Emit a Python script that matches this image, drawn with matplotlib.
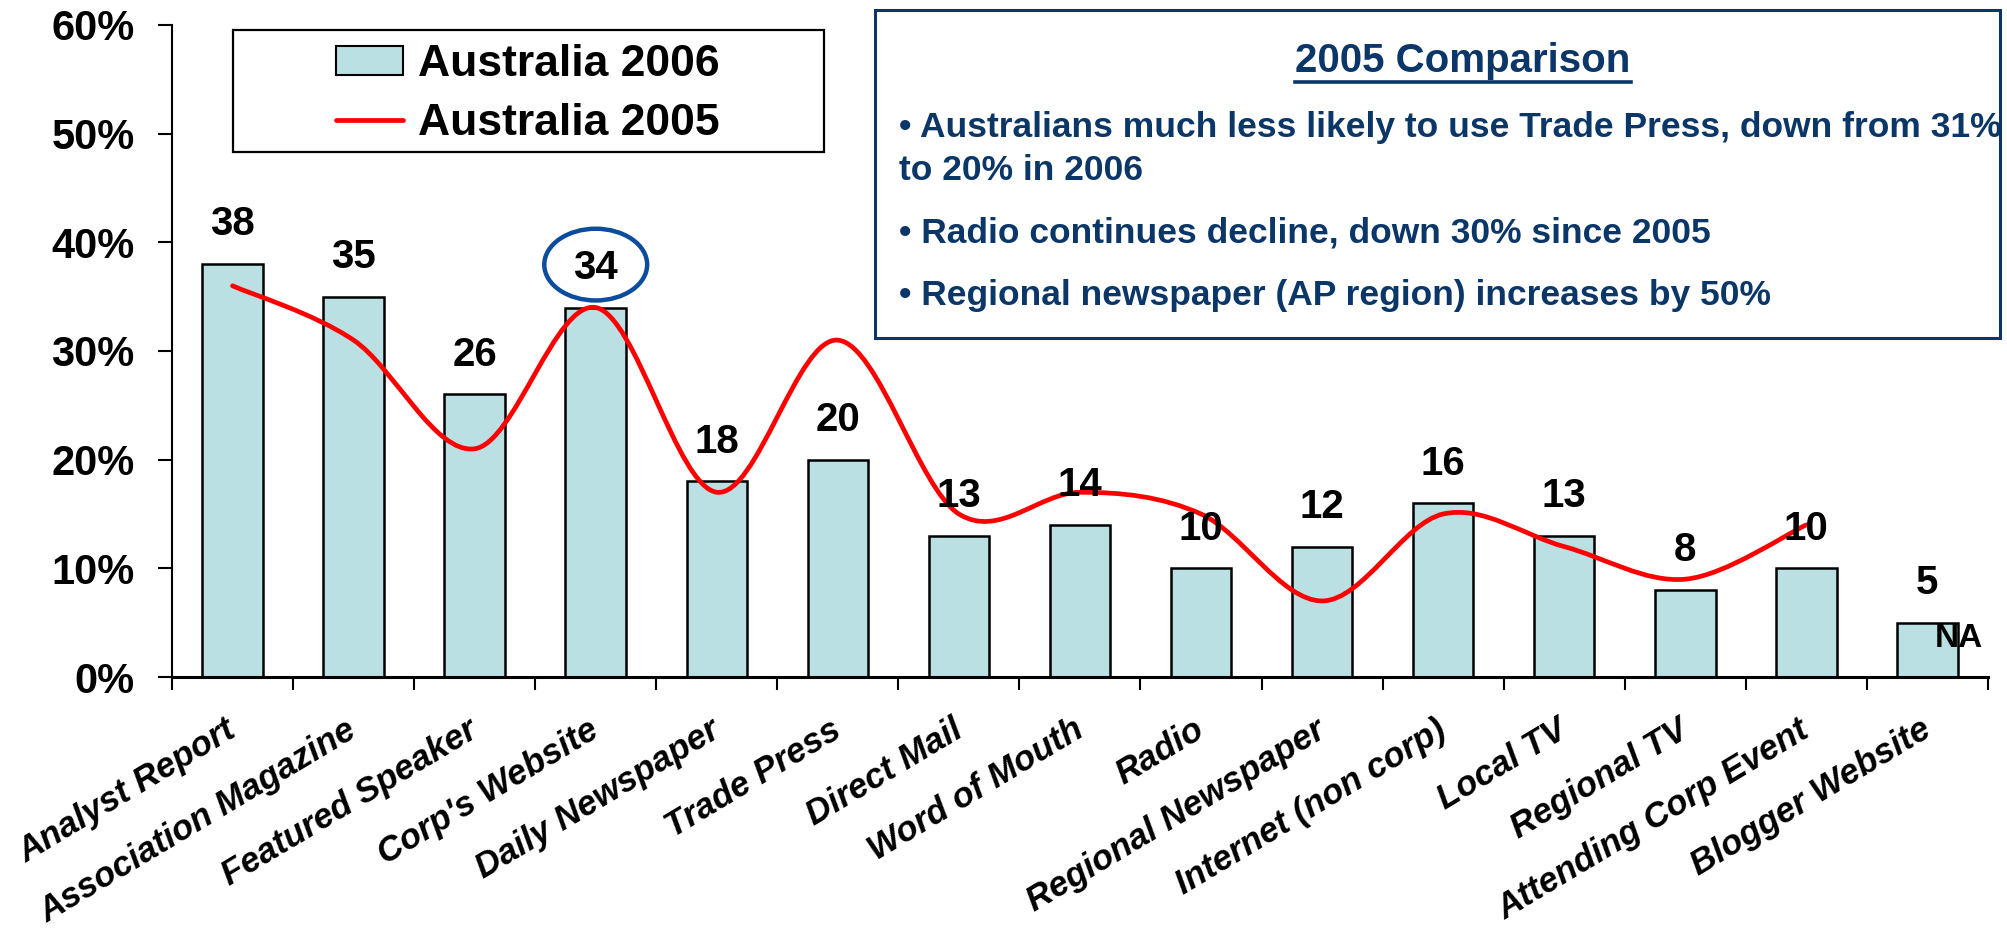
import numpy as np
import matplotlib.pyplot as plt
from matplotlib.path import Path
from matplotlib.patches import PathPatch, Rectangle, Ellipse
from matplotlib.lines import Line2D
from matplotlib.transforms import ScaledTranslation

plt.rcParams['font.family'] = ['Liberation Sans', 'DejaVu Sans']
plt.rcParams['font.weight'] = 'bold'

# --- data ---
categories = ['Analyst Report', 'Association Magazine', 'Featured Speaker', "Corp's Website",
              'Daily Newspaper', 'Trade Press', 'Direct Mail', 'Word of Mouth', 'Radio',
              'Regional Newspaper', 'Internet (non corp)', 'Local TV', 'Regional TV',
              'Attending Corp Event', 'Blogger Website']
aus_2006 = [38, 35, 26, 34, 18, 20, 13, 14, 10, 12, 16, 13, 8, 10, 5]
aus_2005 = [36, 31, 21, 34, 17, 31, 15, 17, 15, 7, 15, 12, 9, 14, None]
y_ticks = [0, 10, 20, 30, 40, 50, 60]
box_title = '2005 Comparison'
box_notes = ['\u2022 Australians much less likely to use Trade Press, down from 31%\nto 20% in 2006',
             '\u2022 Radio continues decline, down 30% since 2005',
             '\u2022 Regional newspaper (AP region) increases by 50%']
highlight = "Corp's Website"
na_category = 'Blogger Website'

BAR_COLOR = '#BAE0E3'
LINE_COLOR = '#FF0000'
NAVY = '#0B3668'
CIRCLE_BLUE = '#0B4C9E'


def smooth_path(xs, ys):
    # excel style smoothed line -> cubic bezier segments through the points
    pts = np.column_stack([xs, ys]).astype(float)
    n = len(pts)
    verts = [pts[0]]
    codes = [Path.MOVETO]
    for i in range(n - 1):
        p0 = pts[max(i - 1, 0)]
        p1 = pts[i]
        p2 = pts[i + 1]
        p3 = pts[min(i + 2, n - 1)]
        verts += [p1 + (p2 - p0) / 6, p2 - (p3 - p1) / 6, p2]
        codes += [Path.CURVE4] * 3
    return Path(verts, codes)


fig = plt.figure(figsize=(20.07, 9.32), dpi=100)
ax = fig.add_axes([0.0857, 0.2736, 0.9048, 0.6996])

x = np.arange(len(categories))
ax.bar(x, aus_2006, width=0.5, color=BAR_COLOR, edgecolor='black', linewidth=1.8, zorder=2)

# 2005 line (smoothed)
idx = [i for i, v in enumerate(aus_2005) if v is not None]
vals = [aus_2005[i] for i in idx]
ax.add_patch(PathPatch(smooth_path(idx, vals), facecolor='none', edgecolor=LINE_COLOR,
                       linewidth=3.4, capstyle='round', zorder=3))

# value labels
for i, v in enumerate(aus_2006):
    ax.annotate(str(v), xy=(i, v), xytext=(0, 28.5), textcoords='offset points',
                ha='center', va='center', fontsize=29, fontweight='bold', zorder=4)

hi = categories.index(highlight)
ax.add_patch(Ellipse((hi, aus_2006[hi] + 3.95), 0.85, 6.6, facecolor='none',
                     edgecolor=CIRCLE_BLUE, linewidth=3.2, zorder=5))

na = categories.index(na_category)
ax.text(na + 0.26, 3.5, 'NA', ha='center', va='center', fontsize=24, fontweight='bold', zorder=5)

# axes
ax.set_xlim(-0.5, len(categories) - 0.5)
ax.set_ylim(0, 60)
ax.set_yticks(y_ticks)
ax.set_yticklabels([f'{t}%' for t in y_ticks])
ax.tick_params(axis='y', length=10, width=1.5, pad=17, labelsize=30)
ax.set_xticks(x)
ax.set_xticklabels(categories, rotation=31, ha='right', rotation_mode='anchor',
                   fontsize=25, fontstyle='italic', fontweight='bold')
ax.set_xticks(np.arange(len(categories) + 1) - 0.5, minor=True)
ax.tick_params(axis='x', which='major', length=0, pad=26)
ax.tick_params(axis='x', which='minor', length=9, width=1.5, direction='out')
shift = ScaledTranslation(-8 / 100, 0, fig.dpi_scale_trans)
for lab in ax.get_xticklabels():
    lab.set_transform(lab.get_transform() + shift)

for s in ['top', 'right']:
    ax.spines[s].set_visible(False)
ax.spines['left'].set_linewidth(1.5)
ax.spines['bottom'].set_linewidth(2.2)

# legend with its own wide frame
W, H = 2007, 932
fig.patches.append(Rectangle((233 / W, 1 - 152 / H), 591 / W, 122 / H, transform=fig.transFigure,
                             facecolor='white', edgecolor='black', linewidth=1.6, zorder=5))
handles = [Rectangle((0, 0), 1, 1, facecolor=BAR_COLOR, edgecolor='black', linewidth=1.5),
           Line2D([], [], color=LINE_COLOR, linewidth=3.4, solid_capstyle='round')]
leg = fig.legend(handles, ['Australia 2006', 'Australia 2005'], loc='center',
                 bbox_to_anchor=(528 / W, 1 - 94 / H), frameon=False, fontsize=32,
                 handlelength=1.5, handleheight=0.6, handletextpad=0.35, labelspacing=0.4)
leg.set_zorder(6)

# comparison box
fig.patches.append(Rectangle((875 / W, 1 - 338 / H), 1125 / W, 328 / H, transform=fig.transFigure,
                             facecolor='white', edgecolor=NAVY, linewidth=2.2, zorder=5))
title = fig.text(1463 / W, 1 - 61 / H, box_title, ha='center', va='center', fontsize=29,
                 fontweight='bold', color=NAVY, zorder=6)
note_y = [133, 238, 301]
for ny, note in zip(note_y, box_notes):
    fig.text(899 / W, 1 - (ny - 22) / H, note, ha='left', va='top', fontsize=25.5,
             fontweight='bold', color=NAVY, linespacing=1.4, zorder=6)

# underline title
fig.canvas.draw()
bb = title.get_window_extent()
uy = (bb.y0 - 2) / H
fig.add_artist(Line2D([bb.x0 / W, bb.x1 / W], [uy, uy], transform=fig.transFigure,
                      color=NAVY, linewidth=2.6, zorder=6))

fig.savefig('out.png', dpi=100)
